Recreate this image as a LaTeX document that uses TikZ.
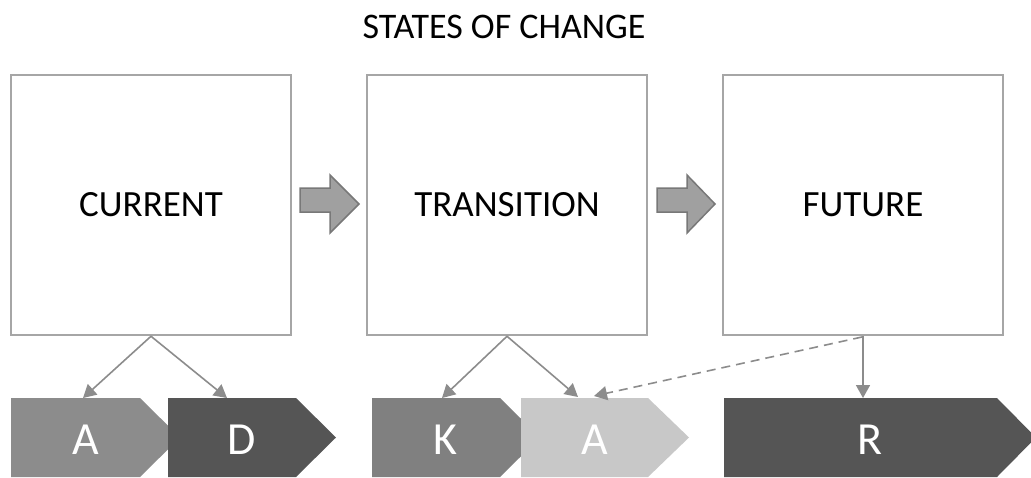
\documentclass[tikz,border=0pt]{standalone}
\usepackage{fontspec}
\setmainfont{Carlito}
\usetikzlibrary{arrows.meta}
\definecolor{boxline}{HTML}{A6A6A6}
\definecolor{linkgray}{HTML}{8C8C8C}
\definecolor{arrowfill}{HTML}{A0A0A0}
\definecolor{arrowline}{HTML}{787878}
\definecolor{chevA}{HTML}{8C8C8C}
\definecolor{chevD}{HTML}{555555}
\definecolor{chevK}{HTML}{808080}
\definecolor{chevL}{HTML}{C8C8C8}
\tikzset{
  statebox/.style={draw=boxline, line width=2.5pt, fill=white, minimum width=280pt, minimum height=260pt, inner sep=0pt, font=\fontsize{37}{40}\selectfont},
  link/.style={draw=linkgray, line width=1.6pt, -{Triangle[length=13pt,width=14pt]}},
  dashlink/.style={link, dashed, dash pattern=on 9pt off 6pt},
  blockarrow/.style={fill=arrowfill, draw=arrowline, line width=1.5pt, line join=miter},
  letter/.style={text=white, font=\fontsize{46}{50}\selectfont, inner sep=0pt},
}
% chevron: left x, body end x, tip x, colour
\newcommand\mychev[4]{\fill[#4] (#1,398) -- (#2,398) -- (#3,437.5) -- (#2,477) -- (#1,477) -- cycle;}
\begin{document}
\begin{tikzpicture}[x=1pt,y=-1pt]
\useasboundingbox (0,0) rectangle (1031,477);

\node[font=\fontsize{36}{40}\selectfont] (title) at (504,27) {STATES OF CHANGE};

\node[statebox] (current) at (151,205) {CURRENT};
\node[statebox] (transition) at (507,205) {TRANSITION};
\node[statebox] (future) at (863,205) {FUTURE};

% block arrows between the states
\path[blockarrow] (300,188) -- (330,188) -- (330,175) -- (359,204) -- (330,233) -- (330,212) -- (300,212) -- cycle;
\path[blockarrow] (657,188) -- (687,188) -- (687,175) -- (715,204) -- (687,233) -- (687,212) -- (657,212) -- cycle;

% chevrons
\mychev{11}{140}{180}{chevA}
\mychev{168}{296}{336}{chevD}
\mychev{372}{500}{540}{chevK}
\mychev{521}{648}{689}{chevL}
\mychev{724}{997}{1036}{chevD}

\node[letter] (a1) at (86,440) {A};
\node[letter] (d1) at (242,440) {D};
\node[letter] (k1) at (445,440) {K};
\node[letter] (a2) at (595,440) {A};
\node[letter] (r1) at (870,440) {R};

\coordinate (a1top) at (83,398);
\coordinate (d1top) at (227,398);
\coordinate (k1top) at (442,398);
\coordinate (a2top) at (578,397);
\coordinate (a2dash) at (594,396);
\coordinate (r1top) at (863,398);
\coordinate (fdash) at (862,337);

\draw[link] (current.south) -- (a1top);
\draw[link] (current.south) -- (d1top);
\draw[link] (transition.south) -- (k1top);
\draw[link] (transition.south) -- (a2top);
\draw[link] (future.south) -- (r1top);
\draw[dashlink] (fdash) -- (a2dash);
\end{tikzpicture}
\end{document}
